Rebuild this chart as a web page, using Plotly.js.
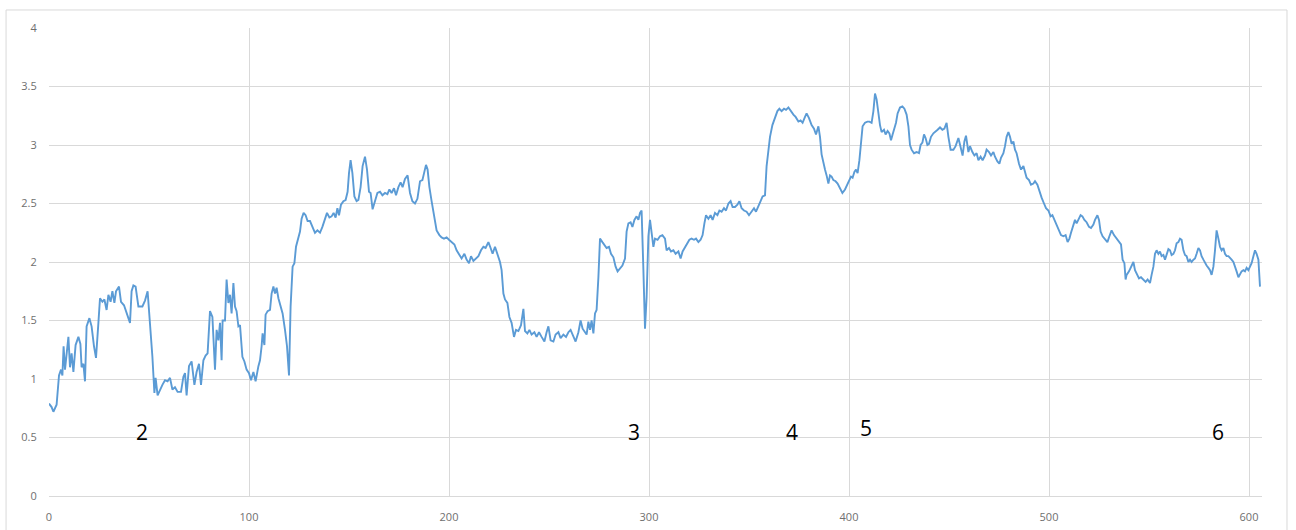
<!DOCTYPE html>
<html>
<head>
<meta charset="utf-8">
<script src="https://cdn.plot.ly/plotly-3.0.1.min.js"></script>
<style>
  html, body { margin: 0; padding: 0; background: #ffffff; }
  #chart { width: 1296px; height: 530px; }
</style>
</head>
<body>
<div id="chart"></div>
<script>
// ---- Data ----
const seriesX = [
  0,1.3,2.2,3.8,5,6,6.7,7.3,8,8.8,9.7,10.5,11.3,12.2,13.3,14.7,15.7,16.3,17.2,18,18.8,20.2,21.3,22.5,23.5,24.7,25.5,26.7,27.7,28.8,29.7,30.8,31.7,32.7,33.5,35,36,37.5,38.8,40.5,41.3,42.2,43.3,44.7,46.7,48,49.3,50.5,51.7,52.7,53.3,54.3,55.5,56.7,58,59.3,60.5,61.7,63,64.3,66,67.2,68,68.8,70,71.3,72.7,73.8,75,76,77.2,78.3,79.3,80.5,81.7,83,83.8,84.7,85.5,86.3,86.8,88,
  88.8,89.7,90.5,91.3,92.2,93,93.8,94.7,95.5,96,96.7,97.7,98.8,100,101,102.2,103.3,104.7,105.5,106.3,106.8,107.7,108.3,109.3,110.5,111.3,112.2,113,113.8,114.7,115.8,116.8,118,119,120,120.8,121.8,122.7,123.5,124.7,125.5,126.3,127.3,128.3,129.3,130.5,131.7,133,134.2,135.5,136.7,138,139,140.2,141.3,142.3,143.3,144.2,145,146,147.2,148.3,149.3,150,150.8,151.7,152.7,153.8,154.7,155.8,156.8,158,159,160,160.8,161.8,163,164.2,165.5,166.7,168,169.2,170.2,171.3,172.5,173.5,174.7,175.8,176.8,178,179.3,
  180.5,181.7,183,184.2,185.5,186.7,187.5,188.5,189.3,190.2,191.3,192.7,193.8,195.2,196.3,197.5,198.8,200,201.3,202.7,203.8,205,206.3,207.7,208.8,210,211,212.2,213.5,214.7,216,217.2,218.3,219.7,220.8,221.8,223,224.2,225.5,226.3,227.2,228,229.2,230.2,231.3,232.5,233.5,234.7,236,237.2,238,239.2,240.2,241.3,242.7,243.8,245,246.3,247.7,248.8,249.7,250.8,252.2,253.3,254.7,255.8,257.2,258.5,259.7,260.8,262.2,263.3,264.7,265.8,266.8,268,
  268.8,269.7,270.5,271.3,272.2,273,273.8,274.7,275.5,276.7,277.7,278.8,280,281,282.2,283.3,284.3,285.5,286.7,288,288.8,289.7,290.8,291.7,292.7,293.8,294.7,295.5,296.3,297.2,298,298.8,299.7,300.5,301.3,302.2,303,304.3,305.5,306.7,308,308.8,310,311,312.2,313.3,314.7,315.8,316.8,318,319.2,320.2,321.3,322.5,323.5,324.7,325.8,326.8,327.7,328.5,329.7,330.8,331.8,333,334.2,335.2,336.3,337.5,338.5,339.7,340.8,341.8,343,344.2,345.2,346.3,347.5,348.8,350,351.3,352.5,353.5,354.7,355.8,356.8,358,
  358.8,359.7,360.5,361.7,363,364.2,365.2,366.3,367.5,368.5,369.7,370.8,372.2,373.3,374.7,375.8,376.8,378,378.8,380,381.3,382.5,383.5,384.7,385.5,386.3,387.2,388,388.8,389.7,390.5,391.3,392.2,393.3,394.3,395.5,396.7,398,399.2,400.2,401,401.8,402.7,403.5,404.3,405.2,406,406.8,408,409.2,410.2,411.3,412.2,413,413.8,414.7,415.5,416.3,417.5,418.3,419.3,420.2,421,421.8,422.7,423.5,424.3,425.5,426.7,427.7,428.8,429.7,430.5,431.3,432.5,433.8,435,435.8,436.7,437.5,438.3,439.2,440,441,442.2,443.3,444.3,445.5,446.7,447.7,448.8,
  449.7,450.8,452.2,453.3,454.7,455.8,456.8,457.7,458.5,459.7,460.5,461.7,462.7,463.8,464.7,465.8,466.8,468,468.8,470,471,472.2,473,474.2,475.2,476,477.2,478,478.8,479.7,480.5,481.3,482.2,483,483.8,485,486,487.2,488,488.8,490,491,492.2,493,494.2,495.2,496.3,497.5,498.5,499.7,500.8,501.7,502.7,503.8,505,506,507.2,508.3,509.3,510.2,511,511.8,513,513.8,514.7,515.8,516.7,517.7,518.8,520,521,522.2,523,524.2,525,525.8,526.8,528,529.2,530.2,531.3,532.5,533.8,535,536,536.8,537.7,538.3,
  538.8,540,541,542.2,543,544.2,545,546,547.2,548.3,549.3,550.5,551.3,552.2,553,553.8,554.7,555.5,556.3,557.2,558,558.8,559.7,560.5,561.3,562.2,563,563.8,564.7,565.5,566.3,567.2,568,568.8,569.7,570.5,571.3,572.2,573,573.8,574.7,575.5,576.3,577.2,578,578.8,579.7,580.5,581.3,582.2,583,583.8,584.7,585.5,586.3,587.2,588,588.8,589.7,590.5,591.3,592.2,593,593.8,594.7,595.5,596.3,597.2,598,598.8,599.7,600.5,601.3,602.2,603,603.8,604.7,605.5
];
const seriesY = [
  0.79,0.76,0.72,0.78,1.03,1.08,1.03,1.28,1.08,1.23,1.36,1.10,1.22,1.06,1.29,1.36,1.30,1.10,1.13,0.98,1.45,1.52,1.45,1.28,1.18,1.48,1.69,1.66,1.68,1.59,1.72,1.66,1.75,1.65,1.75,1.79,1.66,1.63,1.56,1.48,1.75,1.80,1.79,1.62,1.62,1.67,1.75,1.50,1.19,0.88,1.01,0.86,0.91,0.95,0.99,0.98,1.01,0.91,0.93,0.89,0.89,1.02,1.05,0.86,1.11,1.15,0.95,1.06,1.13,0.95,1.16,1.20,1.22,1.58,1.53,1.08,1.42,1.33,1.48,1.16,1.50,1.50,
  1.85,1.65,1.72,1.56,1.82,1.62,1.58,1.45,1.46,1.36,1.19,1.15,1.08,1.05,0.99,1.06,0.98,1.11,1.16,1.28,1.39,1.29,1.55,1.58,1.59,1.73,1.79,1.73,1.78,1.69,1.62,1.56,1.42,1.28,1.03,1.62,1.96,1.99,2.13,2.22,2.26,2.37,2.42,2.40,2.35,2.35,2.30,2.25,2.27,2.25,2.30,2.37,2.42,2.38,2.39,2.42,2.38,2.46,2.40,2.49,2.52,2.53,2.60,2.76,2.87,2.76,2.56,2.52,2.53,2.64,2.82,2.90,2.79,2.60,2.59,2.45,2.52,2.59,2.60,2.57,2.59,2.58,2.62,2.59,2.63,2.57,2.64,2.68,2.64,2.71,2.74,
  2.59,2.52,2.50,2.54,2.69,2.70,2.76,2.83,2.79,2.64,2.52,2.39,2.27,2.23,2.21,2.20,2.21,2.19,2.17,2.15,2.10,2.06,2.03,2.07,2.02,1.99,2.05,2.01,2.03,2.05,2.10,2.13,2.12,2.17,2.12,2.07,2.13,2.07,2.00,1.93,1.73,1.68,1.65,1.53,1.48,1.36,1.42,1.41,1.46,1.60,1.41,1.39,1.42,1.38,1.40,1.36,1.40,1.36,1.32,1.40,1.45,1.33,1.32,1.38,1.40,1.35,1.38,1.36,1.40,1.42,1.36,1.32,1.40,1.50,1.43,1.40,
  1.38,1.49,1.42,1.50,1.39,1.56,1.59,1.87,2.20,2.17,2.15,2.12,2.13,2.07,2.04,1.96,1.92,1.95,1.97,2.03,2.26,2.33,2.34,2.30,2.36,2.39,2.36,2.42,2.44,1.93,1.43,1.70,2.22,2.36,2.26,2.13,2.20,2.19,2.22,2.23,2.20,2.10,2.12,2.09,2.10,2.07,2.09,2.03,2.09,2.13,2.17,2.19,2.20,2.19,2.20,2.17,2.19,2.23,2.33,2.40,2.37,2.40,2.36,2.42,2.40,2.44,2.43,2.46,2.44,2.50,2.52,2.47,2.47,2.49,2.52,2.46,2.44,2.43,2.40,2.43,2.46,2.43,2.47,2.52,2.56,2.57,
  2.82,2.99,3.07,3.17,3.24,3.29,3.31,3.29,3.31,3.30,3.32,3.29,3.26,3.24,3.20,3.21,3.19,3.24,3.27,3.23,3.17,3.14,3.09,3.16,3.07,2.92,2.84,2.79,2.74,2.67,2.74,2.73,2.70,2.69,2.67,2.63,2.59,2.62,2.66,2.70,2.73,2.72,2.77,2.79,2.76,2.87,3.04,3.16,3.19,3.20,3.20,3.19,3.29,3.44,3.39,3.27,3.17,3.11,3.13,3.09,3.12,3.10,3.04,3.09,3.14,3.19,3.27,3.32,3.33,3.31,3.26,3.16,3.00,2.96,2.93,2.94,2.93,3.00,3.02,3.09,3.06,3.00,3.01,3.07,3.10,3.12,3.13,3.15,3.13,3.14,3.19,
  3.07,2.96,2.96,2.99,3.06,2.99,2.91,3.03,3.08,2.94,2.99,2.94,2.91,2.93,2.87,2.90,2.87,2.91,2.96,2.94,2.91,2.94,2.90,2.86,2.84,2.89,2.93,2.99,3.07,3.11,3.07,3.01,3.03,2.96,2.93,2.84,2.79,2.82,2.76,2.72,2.70,2.66,2.67,2.69,2.66,2.60,2.55,2.50,2.46,2.44,2.39,2.40,2.36,2.32,2.27,2.23,2.22,2.23,2.17,2.20,2.25,2.30,2.36,2.33,2.36,2.40,2.39,2.36,2.34,2.30,2.29,2.32,2.36,2.40,2.36,2.26,2.22,2.19,2.17,2.22,2.27,2.23,2.20,2.17,2.15,2.02,1.99,1.85,
  1.89,1.92,1.96,2.00,1.93,1.89,1.86,1.87,1.85,1.83,1.85,1.82,1.89,1.96,2.07,2.10,2.07,2.09,2.05,2.06,2.02,2.07,2.11,2.10,2.06,2.07,2.10,2.16,2.17,2.20,2.19,2.10,2.06,2.05,2.00,2.02,2.00,2.02,2.03,2.07,2.12,2.10,2.05,2.02,1.99,1.97,1.95,1.93,1.89,1.96,2.10,2.27,2.20,2.13,2.10,2.12,2.07,2.05,2.05,2.03,2.02,2.00,1.95,1.92,1.87,1.90,1.92,1.93,1.92,1.95,1.93,1.96,1.99,2.05,2.10,2.07,2.02,1.79
];
const xTickValues = [0, 100, 200, 300, 400, 500, 600];
const yTickValues = [0, 0.5, 1, 1.5, 2, 2.5, 3, 3.5, 4];
const markerLabels = ["2", "3", "4", "5", "6"];
const markerLabelX = [46.5, 292.5, 371.5, 408.5, 584.5];
const markerLabelY = [0.55, 0.55, 0.55, 0.58, 0.55];

// ---- Chart ----
const trace = {
  x: seriesX,
  y: seriesY,
  type: "scatter",
  mode: "lines",
  line: { color: "#5b9bd5", width: 1.9 },
  hoverinfo: "none"
};

const annotations = markerLabels.map((t, i) => ({
  x: markerLabelX[i],
  y: markerLabelY[i],
  xref: "x",
  yref: "y",
  text: t,
  showarrow: false,
  font: { family: "Open Sans, Liberation Sans, sans-serif", size: 21, color: "#000000", weight: 500 }
}));

const layout = {
  width: 1296,
  height: 530,
  margin: { l: 49, r: 34, t: 28, b: 34, pad: 0 },
  paper_bgcolor: "#ffffff",
  plot_bgcolor: "#ffffff",
  showlegend: false,
  font: { family: "Open Sans, Liberation Sans, sans-serif", size: 11, color: "#6f6f6f" },
  xaxis: {
    range: [0, 606.5],
    tickvals: xTickValues,
    ticktext: xTickValues.map(String),
    showgrid: true,
    gridcolor: "#d9d9d9",
    gridwidth: 1,
    zeroline: false,
    showline: true,
    linecolor: "#d9d9d9",
    linewidth: 1,
    ticks: "outside",
    ticklen: 11,
    tickcolor: "rgba(0,0,0,0)",
    tickfont: { size: 11, color: "#6f6f6f" },
    fixedrange: true
  },
  yaxis: {
    range: [0, 4],
    tickvals: yTickValues,
    ticktext: yTickValues.map(String),
    showgrid: true,
    gridcolor: "#d9d9d9",
    gridwidth: 1,
    zeroline: false,
    showline: false,
    ticks: "outside",
    ticklen: 9,
    tickcolor: "rgba(0,0,0,0)",
    tickfont: { size: 11, color: "#6f6f6f" },
    fixedrange: true
  },
  annotations: annotations,
  shapes: [
    {
      type: "rect",
      xref: "paper", yref: "paper",
      x0: -0.0354, x1: 1.0206,
      y0: -0.2, y1: 1.0385,
      line: { color: "#d9d9d9", width: 1 },
      fillcolor: "rgba(0,0,0,0)",
      layer: "below"
    }
  ]
};

Plotly.newPlot("chart", [trace], layout, { staticPlot: true, displayModeBar: false });
</script>
</body>
</html>
